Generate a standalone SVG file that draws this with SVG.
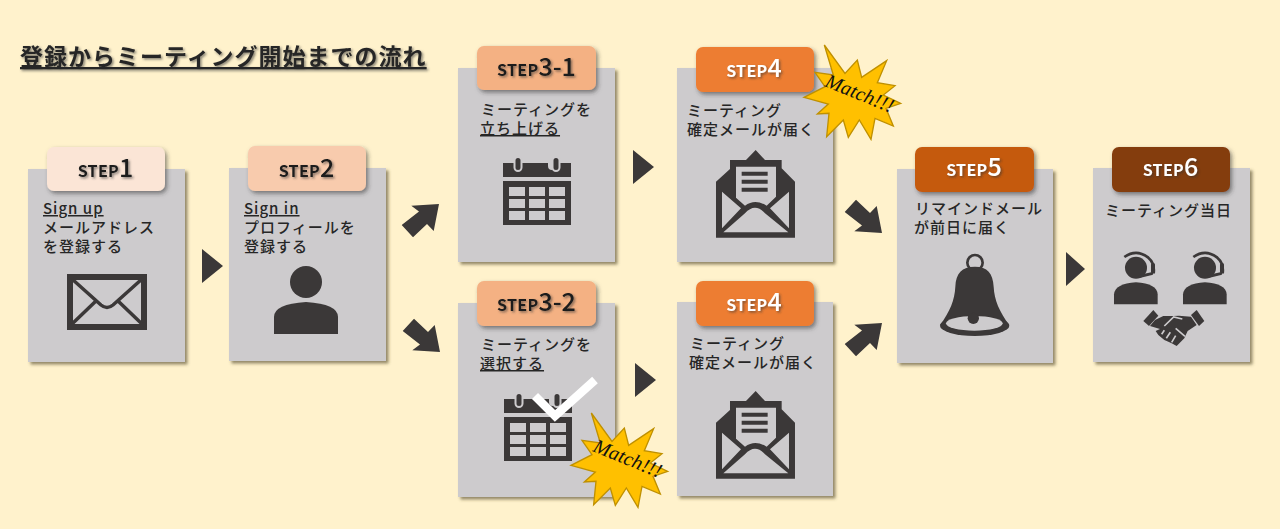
<svg xmlns="http://www.w3.org/2000/svg" xmlns:xlink="http://www.w3.org/1999/xlink" width="1280" height="529" viewBox="0 0 1280 529">
<style>
text{font-family:"Noto Sans CJK JP","Noto Sans",sans-serif}
.card{fill:#cdcbcd;filter:url(#cs)}
.tab{filter:url(#ts)}
.body{font-size:15px;font-weight:500;fill:#262626;letter-spacing:1px}
.u{text-decoration:underline}
.tt{font-size:25px;font-weight:500;text-anchor:middle;fill:#1a1a1a;filter:url(#txs)}
.tt .s{font-size:16px;font-weight:700;letter-spacing:.3px}
.w{fill:#fff}
.ic{fill:#3b3838}
.lt{fill:#cdcbcd}
.m{font-family:"Liberation Serif",serif;font-style:italic;font-size:20px;fill:#111}
</style>
<defs>
<filter id="cs" x="-10%" y="-10%" width="125%" height="125%"><feDropShadow dx="2.5" dy="2.5" stdDeviation="1.6" flood-color="#5a5030" flood-opacity=".65"/></filter>
<filter id="ts" x="-10%" y="-10%" width="125%" height="135%"><feDropShadow dx="2" dy="2.5" stdDeviation="2" flood-color="#333" flood-opacity=".55"/></filter>
<filter id="txs" x="-10%" y="-20%" width="125%" height="150%"><feDropShadow dx="1.5" dy="1.5" stdDeviation="1.2" flood-color="#333" flood-opacity=".6"/></filter>
<polygon id="tri" class="ic" points="0,0 21,17 0,34"/>
<polygon id="dia" class="ic" points="-37.3,21 -20,7.500 -27.7,1.700 0,0 -5.300,27 -12,20 -26,33.300"/>
<g id="cal" class="ic">
<path d="M503 163h11v3a4 4 0 0 0 8 0v-3h26v3a4 4 0 0 0 8 0v-3h15v14h-68z"/>
<rect x="514.500" y="157" width="7" height="14" rx="3.500" fill="#3b3838" stroke="#cdcbcd" stroke-width="2"/>
<rect x="552.500" y="157" width="7" height="14" rx="3.500" fill="#3b3838" stroke="#cdcbcd" stroke-width="2"/>
<path fill-rule="evenodd" d="M503 181h68v44h-68zM509 187v9h16v-9zM529 187v9h16v-9zM549 187v9h16v-9zM509 199v9h16v-9zM529 199v9h16v-9zM549 199v9h16v-9zM509 211v9h16v-9zM529 211v9h16v-9zM549 211v9h16v-9z"/>
</g>
<g id="open" transform="translate(710,145) scale(.3333)">
<path class="ic" d="M137 15L165 45H215V70L255 110V278H18V110L60 72V45H108z"/>
<path class="lt" d="M78 65H198V155L170 182Q135 160 105 182L78 158zM36 140L93 190L36 250zM237 140L180 190L237 250zM40 262L105 205Q135 172 165 205L235 262z"/>
<path class="ic" d="M95 80H173V92H95zM95 104H173V116H95zM95 128H173V140H95z"/>
</g>
<g id="star" transform="translate(800,40) scale(.3333)">
<polygon fill="#ffc000" stroke="#bf9000" stroke-width="4" points="73,15 135,100 172,60 185,112 260,62 232,128 285,137 250,165 302,190 258,205 280,258 225,235 213,298 178,240 145,292 130,240 80,290 87,220 52,222 85,192 12,172 75,140 45,97 100,105"/>
</g>
<g id="person" transform="scale(.3333)">
<circle class="ic" cx="93" cy="68" r="33"/>
<path class="ic" d="M27 178V148Q30 116 93 112Q156 116 158 148V178z"/>
<path d="M58 36Q95 10 130 38Q150 55 146 85" fill="none" stroke="#3b3838" stroke-width="8"/>
<rect class="ic" x="138" y="55" width="12" height="30" rx="4"/>
<path d="M140 86L106 94" fill="none" stroke="#3b3838" stroke-width="9" stroke-linecap="round"/>
</g>
<g id="hands" transform="translate(1105,245) scale(.3333)">
<polygon class="ic" points="115,228 145,195 160,212 132,243"/>
<polygon class="ic" points="258,210 275,195 298,228 282,243"/>
<path class="ic" d="M150 225L175 213H205L222 212L258 215L275 240L248 258L238 280L215 303L200 295L190 290L178 285L160 270L152 258L165 252L135 243z"/>
<path d="M178 243L206 216L232 222M212 250L240 274M178 256L170 268M196 262L184 280M212 272L200 292" fill="none" stroke="#cdcbcd" stroke-width="5"/>
</g>
</defs>
<rect width="1280" height="529" fill="#fff2cc"/>

<text id="title" x="20" y="65" font-size="23" font-weight="700" letter-spacing="1" fill="#262626" class="u" filter="url(#txs)">登録からミーティング開始までの流れ</text>

<g id="connectors">
<use xlink:href="#tri" href="#tri" x="202" y="249"/>
<use xlink:href="#dia" href="#dia" transform="translate(439,204)"/>
<use xlink:href="#dia" href="#dia" transform="translate(440,352) scale(1,-1)"/>
<use xlink:href="#tri" href="#tri" x="633" y="150"/>
<use xlink:href="#tri" href="#tri" x="635" y="363"/>
<use xlink:href="#dia" href="#dia" transform="translate(882,233) scale(1,-1)"/>
<use xlink:href="#dia" href="#dia" transform="translate(882,323)"/>
<polygon class="ic" points="1066,252 1085,269 1066,286"/>
</g>

<g id="step1">
<rect class="card" x="28" y="169" width="157" height="193"/>
<rect class="tab" x="47" y="147" width="118" height="44" rx="7" fill="#fbe5d6"/>
<text class="tt" x="105.500" y="177"><tspan class="s">STEP</tspan>1</text>
<text class="body" x="43" y="214"><tspan class="u">Sign up</tspan></text>
<text class="body" x="43" y="233">メールアドレス</text>
<text class="body" x="43" y="252">を登録する</text>
<rect x="70" y="277" width="74" height="50" fill="none" stroke="#3b3838" stroke-width="6"/>
<path d="M72 279l29 26q6 5 12 0l29-26M72 324l25-24M142 324l-25-24" fill="none" stroke="#3b3838" stroke-width="3.500"/>
</g>

<g id="step2">
<rect class="card" x="229" y="168" width="157" height="193"/>
<rect class="tab" x="248" y="146" width="118" height="45" rx="7" fill="#f8cbad"/>
<text class="tt" x="306.500" y="177"><tspan class="s">STEP</tspan>2</text>
<text class="body" x="244" y="214"><tspan class="u">Sign in</tspan></text>
<text class="body" x="244" y="233">プロフィールを</text>
<text class="body" x="244" y="252">登録する</text>
<circle class="ic" cx="306" cy="282" r="16"/>
<path class="ic" d="M274 334v-17q0-13 32-15q32 2 32 15v17z"/>
</g>

<g id="step3-1">
<rect class="card" x="458" y="68" width="157" height="194"/>
<rect class="tab" x="477" y="46" width="119" height="44" rx="7" fill="#f4b183"/>
<text class="tt" x="536.500" y="76"><tspan class="s">STEP</tspan>3-1</text>
<text class="body" x="481" y="115">ミーティングを</text>
<text class="body u" x="480" y="134">立ち上げる</text>
<use xlink:href="#cal" href="#cal"/>
</g>

<g id="step4-a">
<rect class="card" x="677" y="68" width="156" height="194"/>
<rect class="tab" x="696" y="47" width="118" height="45" rx="7" fill="#ed7d31"/>
<text class="tt w" x="754" y="77"><tspan class="s">STEP</tspan>4</text>
<text class="body" x="687" y="116">ミーティング</text>
<text class="body" x="687" y="135">確定メールが届く</text>
<use xlink:href="#open" href="#open"/>
<use xlink:href="#star" href="#star"/>
<text class="m" textLength="72" transform="translate(824,86) rotate(22)">Match!!!</text>
</g>

<g id="step3-2">
<rect class="card" x="458" y="303" width="157" height="194"/>
<rect class="tab" x="477" y="281" width="119" height="45" rx="7" fill="#f4b183"/>
<text class="tt" x="536.500" y="311"><tspan class="s">STEP</tspan>3-2</text>
<text class="body" x="481" y="350">ミーティングを</text>
<text class="body u" x="480" y="369">選択する</text>
<use xlink:href="#cal" href="#cal" transform="translate(1,236)"/>
<path d="M535 396l20 20 40-36" fill="none" stroke="#fff" stroke-width="8.500"/>
<use xlink:href="#star" href="#star" transform="translate(-233,368)"/>
<text class="m" textLength="72" transform="translate(592,451) rotate(22)">Match!!!</text>
</g>

<g id="step4-b">
<rect class="card" x="677" y="302" width="156" height="194"/>
<rect class="tab" x="696" y="281" width="118" height="45" rx="7" fill="#ed7d31"/>
<text class="tt w" x="754" y="311"><tspan class="s">STEP</tspan>4</text>
<text class="body" x="690" y="349">ミーティング</text>
<text class="body" x="689" y="368">確定メールが届く</text>
<use xlink:href="#open" href="#open" transform="translate(0,241)"/>
</g>

<g id="step5">
<rect class="card" x="897" y="169" width="156" height="194"/>
<rect class="tab" x="915" y="147" width="119" height="45" rx="7" fill="#c55a11"/>
<text class="tt w" x="974" y="176"><tspan class="s">STEP</tspan>5</text>
<text class="body" x="915" y="214">リマインドメール</text>
<text class="body" x="914" y="233">が前日に届く</text>
<g transform="translate(930,250) scale(.3333)">
<circle cx="135" cy="38" r="23" fill="none" stroke="#3b3838" stroke-width="8"/>
<path class="ic" d="M135 50C95 50 78 70 76 110C74 150 60 185 30 225H238C208 185 193 150 191 110C189 70 172 50 135 50z"/>
<ellipse class="ic" cx="134" cy="227" rx="104" ry="31"/>
<ellipse class="lt" cx="133" cy="220" rx="85" ry="22"/>
<circle class="ic" cx="130" cy="205" r="17"/>
</g>
</g>

<g id="step6">
<rect class="card" x="1093" y="168" width="157" height="194"/>
<rect class="tab" x="1112" y="147" width="118" height="45" rx="7" fill="#843c0c"/>
<text class="tt w" x="1170.500" y="176"><tspan class="s">STEP</tspan>6</text>
<text class="body" x="1105" y="216">ミーティング当日</text>
<use xlink:href="#person" href="#person" transform="translate(1105,245)"/>
<use xlink:href="#person" href="#person" transform="translate(1174,245)"/>
<use xlink:href="#hands" href="#hands"/>
</g>
</svg>
